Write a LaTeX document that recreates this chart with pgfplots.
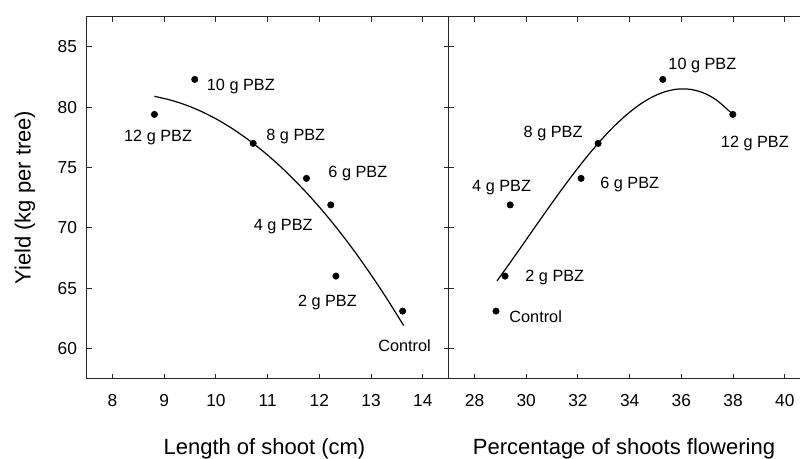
\documentclass[border=0pt]{standalone}
\usepackage{fontspec}
\setmainfont{Liberation Sans}
\usepackage{pgfplots}
\pgfplotsset{compat=1.18}
\begin{document}
\begin{tikzpicture}
\path[use as bounding box] (-65pt,-59.5pt) rectangle (535pt,284pt);
\tikzset{lbl/.style={font=\fontsize{12.2}{14}\selectfont, anchor=base west, inner sep=0pt}}
\pgfplotsset{
  panel/.style={
    scale only axis, width=271.5pt, height=271.5pt,
    ymin=57.5, ymax=87.5, ytick={60,65,...,85},
    tick align=inside, major tick length=3.75pt,
    axis line style={black!85, line width=0.9pt},
    every tick/.style={black!85, line width=0.8pt},
    tick label style={font=\fontsize{13}{15}\selectfont},
    /pgf/number format/assume math mode=true,
    xticklabel style={anchor=base, yshift=-21pt},
    yticklabel style={anchor=east, xshift=-3.7pt},
    label style={font=\fontsize{16.5}{19}\selectfont},
    clip=false,
  },
}
\begin{axis}[panel, at={(0pt,0pt)}, anchor=south west,
  xmin=7.5, xmax=14.5, xtick={8,...,14},
  xlabel={Length of shoot (cm)},
  xlabel style={at={(axis description cs:0.5,0)}, anchor=base, yshift=-57pt, xshift=-2.4pt},
  ylabel={Yield (kg per tree)},
  ylabel style={at={(axis description cs:-0.1705,0.5)}, anchor=center},
]
\addplot[black, line width=0.9pt, smooth] coordinates {
 (8.81,80.90) (9.11,80.60) (9.41,80.19) (9.71,79.66) (10.01,79.01) (10.31,78.24)
 (10.61,77.35) (10.91,76.35) (11.21,75.23) (11.51,73.99) (11.81,72.64) (12.11,71.17)
 (12.41,69.58) (12.71,67.87) (13.01,66.04) (13.31,64.10) (13.63,61.90)};
\addplot[only marks, mark=*, mark size=2.4pt, black] coordinates {
 (8.81,79.4) (9.59,82.3) (10.72,77.0) (11.75,74.1) (12.22,71.9) (12.32,66.0) (13.61,63.1)};
\node[lbl] at (axis cs:9.82,81.41) {10 g PBZ};
\node[lbl] at (axis cs:8.22,77.13) {12 g PBZ};
\node[lbl] at (axis cs:10.971,77.27) {8 g PBZ};
\node[lbl] at (axis cs:12.171,74.14) {6 g PBZ};
\node[lbl] at (axis cs:10.727,69.75) {4 g PBZ};
\node[lbl] at (axis cs:11.582,63.51) {2 g PBZ};
\node[lbl] at (axis cs:13.134,59.78) {Control};
\end{axis}
\begin{axis}[panel, at={(271.5pt,0pt)}, anchor=south west,
  axis x line*=box, axis y line*=left,
  x axis line style={-}, y axis line style={-},
  xmin=27, xmax=41, xtick={28,30,...,40}, yticklabels={},
  xlabel={Percentage of shoots flowering},
  xlabel style={at={(axis description cs:0.5,0)}, anchor=base, yshift=-57pt, xshift=-4.25pt},
]
\addplot[black, line width=0.9pt, smooth] coordinates {
 (28.87,65.60) (29.37,67.10) (29.87,68.62) (30.37,70.16) (30.87,71.68) (31.37,73.17)
 (31.87,74.60) (32.37,75.96) (32.87,77.22) (33.37,78.36) (33.87,79.35) (34.37,80.19)
 (34.87,80.84) (35.37,81.28) (35.87,81.50) (36.37,81.47) (36.87,81.17) (37.37,80.57)
 (37.99,79.40)};
\addplot[only marks, mark=*, mark size=2.4pt, black] coordinates {
 (35.28,82.3) (37.99,79.4) (32.78,77.0) (32.12,74.1) (29.38,71.9) (29.18,66.0) (28.83,63.1)};
\node[lbl] at (axis cs:35.49,83.13) {10 g PBZ};
\node[lbl] at (axis cs:37.52,76.66) {12 g PBZ};
\node[lbl] at (axis cs:29.893,77.46) {8 g PBZ};
\node[lbl] at (axis cs:32.855,73.26) {6 g PBZ};
\node[lbl] at (axis cs:27.90,72.98) {4 g PBZ};
\node[lbl] at (axis cs:29.958,65.52) {2 g PBZ};
\node[lbl] at (axis cs:29.34,62.12) {Control};
\end{axis}
\end{tikzpicture}
\end{document}
